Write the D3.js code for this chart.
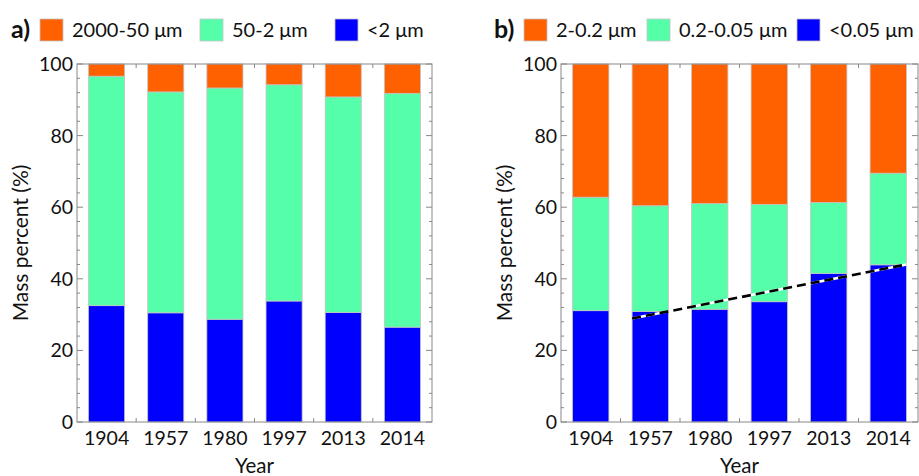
<!DOCTYPE html>
<html>
<head>
<meta charset="utf-8">
<script src="https://cdn.jsdelivr.net/npm/d3@7.9.0/dist/d3.min.js"></script>
<style>
  body { margin: 0; background: #fff; }
  svg text { font-family: "Lato", "DejaVu Sans", sans-serif; fill: #111; }
</style>
</head>
<body>
<svg id="chart" width="919" height="476"></svg>
<script>
const years = ['1904', '1957', '1980', '1997', '2013', '2014'];
const yTicks = [0, 20, 40, 60, 80, 100];

// panel a) - upper edge of each stacked class (cumulative %)
const namesA = ['2000-50 μm', '50-2 μm', '<2 μm'];
const clayTop = [32.5, 30.5, 28.7, 33.8, 30.6, 26.5];
const siltTop = [96.6, 92.2, 93.3, 94.2, 90.8, 91.8];

// panel b)
const namesB = ['2-0.2 μm', '0.2-0.05 μm', '<0.05 μm'];
const fineTop = [31.1, 30.9, 31.5, 33.6, 41.5, 43.9];
const midTop = [62.8, 60.4, 61.0, 60.8, 61.3, 69.5];

// trend line across the finest class (1957 -> 2014)
const trendYears = ['1957', '2014'];
const trendVals = [28.9, 44.0];

const colors = ['#ff6000', '#55ffaa', '#0000ff'];

const svg = d3.select('#chart');

function drawPanel(left, right, label, names, lowTop, midTopArr, legendX, trend) {
  const top = 64, bottom = 422;
  const x = d3.scaleBand().domain(years).range([left, right]).paddingInner(0.39).paddingOuter(0.195);
  const y = d3.scaleLinear().domain([0, 100]).range([bottom, top]);
  const g = svg.append('g');

  // stacked segments: [bottom, top, colorIdx]
  years.forEach((yr, i) => {
    const segs = [[0, lowTop[i], 2], [lowTop[i], midTopArr[i], 1], [midTopArr[i], 100, 0]];
    segs.forEach(([a, b, c]) => {
      g.append('rect')
        .attr('x', x(yr))
        .attr('width', x.bandwidth())
        .attr('y', y(b))
        .attr('height', y(a) - y(b))
        .attr('fill', colors[c])
        .attr('stroke', '#c4c4c4')
        .attr('stroke-width', 0.8);
    });
  });

  if (trend) {
    const x0 = x(trend.years[0]), x1 = x(trend.years[1]) + x.bandwidth();
    const pts = [[x0, y(trend.vals[0])], [x1, y(trend.vals[1])]];
    const line = d3.line();
    g.append('path').attr('d', line(pts)).attr('stroke', '#fff').attr('stroke-width', 2.6).attr('fill', 'none');
    g.append('path').attr('d', line(pts)).attr('stroke', '#000').attr('stroke-width', 2.6)
      .attr('stroke-dasharray', '9,5').attr('fill', 'none');
  }

  // frame
  g.append('rect').attr('x', left).attr('y', top).attr('width', right - left).attr('height', bottom - top)
    .attr('fill', 'none').attr('stroke', '#888').attr('stroke-width', 1);

  // y ticks, both sides, pointing inward
  const minor = d3.range(0, 101, 4).filter(v => v % 20 !== 0);
  yTicks.forEach(v => {
    g.append('line').attr('x1', left).attr('x2', left + 6).attr('y1', y(v)).attr('y2', y(v)).attr('stroke', '#888');
    g.append('line').attr('x1', right).attr('x2', right - 6).attr('y1', y(v)).attr('y2', y(v)).attr('stroke', '#888');
    g.append('text').attr('x', left - 4).attr('y', y(v) + 7).attr('text-anchor', 'end')
      .attr('font-size', 19.5).text(v);
  });
  minor.forEach(v => {
    g.append('line').attr('x1', left).attr('x2', left + 3).attr('y1', y(v)).attr('y2', y(v)).attr('stroke', '#888');
    g.append('line').attr('x1', right).attr('x2', right - 3).attr('y1', y(v)).attr('y2', y(v)).attr('stroke', '#888');
  });

  // x ticks at band boundaries
  const step = x.step();
  years.slice(1).forEach(yr => {
    const xb = x(yr) - (step - x.bandwidth()) / 2;
    g.append('line').attr('x1', xb).attr('x2', xb).attr('y1', bottom).attr('y2', bottom - 4).attr('stroke', '#888');
    g.append('line').attr('x1', xb).attr('x2', xb).attr('y1', top).attr('y2', top + 4).attr('stroke', '#888');
  });
  years.forEach(yr => {
    g.append('text').attr('x', x(yr) + x.bandwidth() / 2).attr('y', 445).attr('text-anchor', 'middle')
      .attr('font-size', 19.5).text(yr);
  });

  // axis titles
  g.append('text').attr('x', (left + right) / 2).attr('y', 473).attr('text-anchor', 'middle')
    .attr('font-size', 20.5).text('Year');
  g.append('text').attr('transform', `translate(${left - 49},${(top + bottom) / 2}) rotate(-90)`)
    .attr('text-anchor', 'middle').attr('font-size', 21).text('Mass percent (%)');

  // panel label + legend
  g.append('text').attr('x', legendX[0]).attr('y', 38).attr('font-size', 25).attr('font-weight', 'bold').text(label);
  names.forEach((n, i) => {
    const lx = legendX[i + 1];
    g.append('rect').attr('x', lx).attr('y', 19).attr('width', 23).attr('height', 22)
      .attr('fill', colors[i]).attr('stroke', '#c4c4c4').attr('stroke-width', 0.8);
    g.append('text').attr('x', lx + 32).attr('y', 37).attr('font-size', 20).text(n);
  });
}

drawPanel(77, 432, 'a)', namesA, clayTop, siltTop, [11, 40, 200, 335]);
drawPanel(561, 918, 'b)', namesB, fineTop, midTop, [494, 524, 647, 797], { years: trendYears, vals: trendVals });
</script>
</body>
</html>
